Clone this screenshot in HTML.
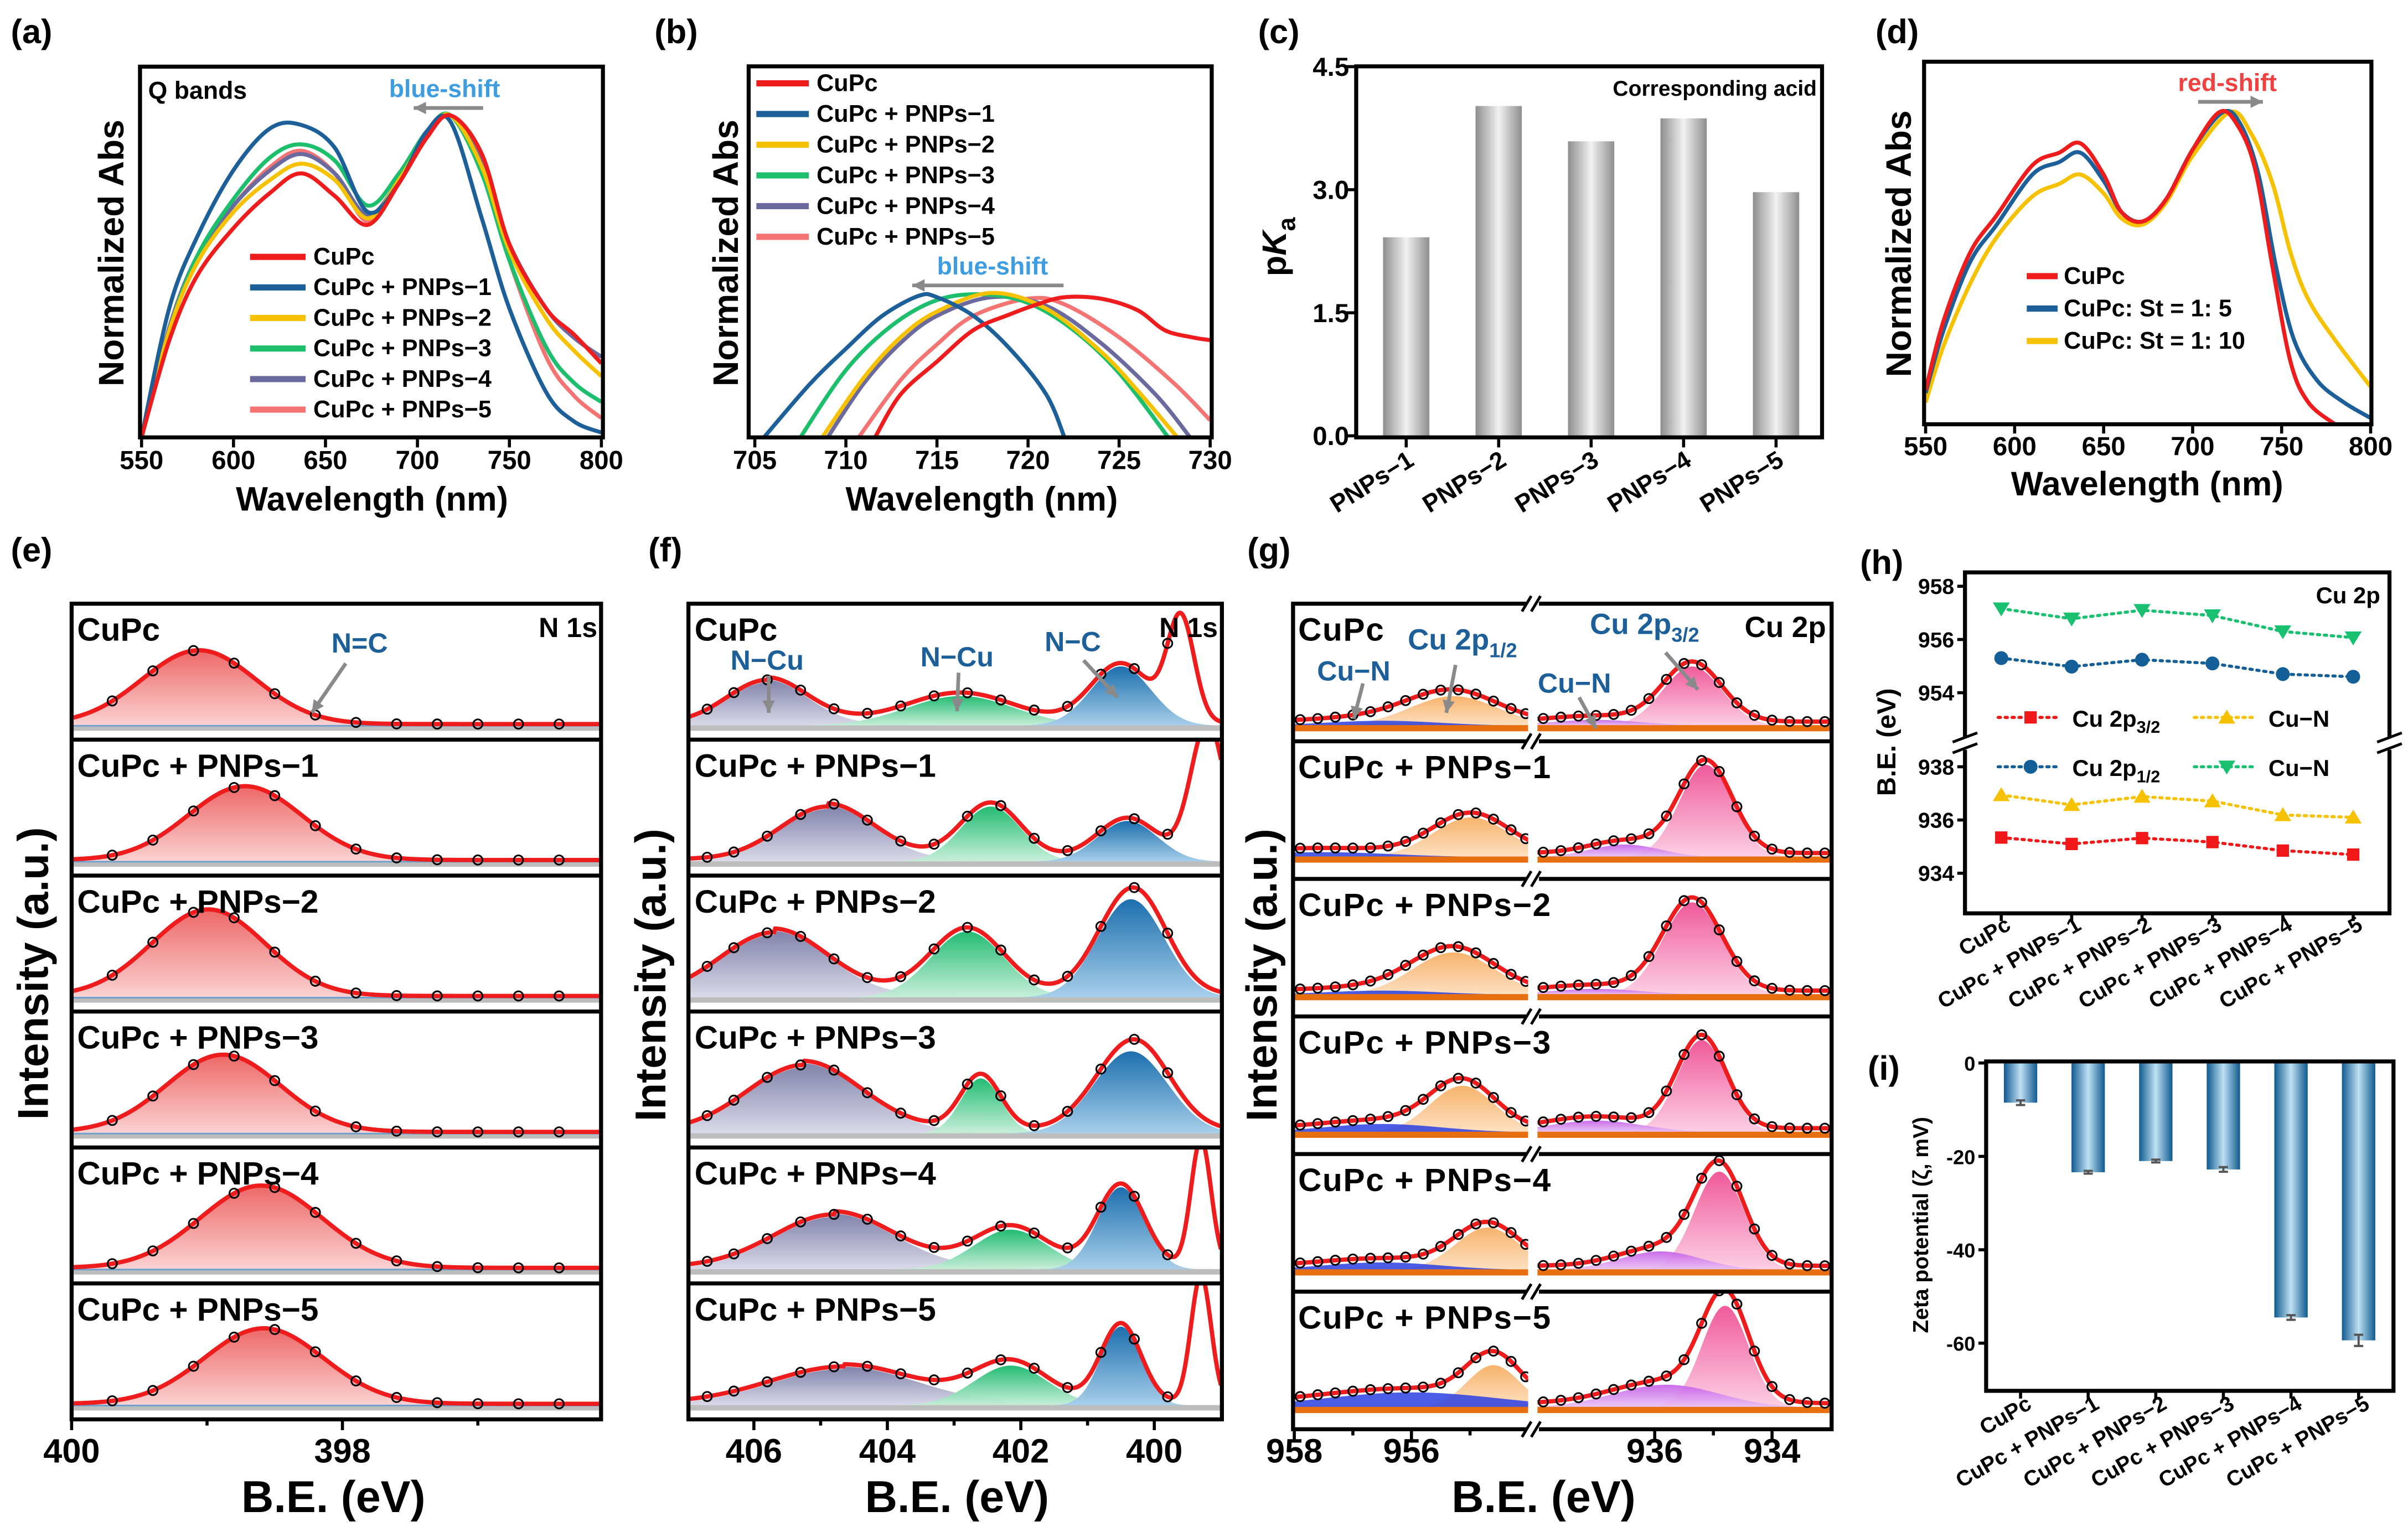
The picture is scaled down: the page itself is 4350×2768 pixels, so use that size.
<!DOCTYPE html>
<html><head><meta charset="utf-8"><title>CuPc spectra figure</title>
<style>
html,body{margin:0;padding:0;background:#fff;}
svg{display:block;}
text{font-family:"Liberation Sans",Arial,sans-serif;font-weight:bold;}
</style></head>
<body>
<svg id="fig" xmlns="http://www.w3.org/2000/svg" width="4350" height="2768" viewBox="0 0 1560 993" preserveAspectRatio="none">
<defs>
<linearGradient id="gRed" x1="0" y1="0" x2="0" y2="1"><stop offset="0" stop-color="#ee6a6a"/><stop offset="1" stop-color="#fbd2d2"/></linearGradient>
<linearGradient id="gPur" x1="0" y1="0" x2="0" y2="1"><stop offset="0" stop-color="#7b7ca6"/><stop offset="1" stop-color="#d8d8e8"/></linearGradient>
<linearGradient id="gGre" x1="0" y1="0" x2="0" y2="1"><stop offset="0" stop-color="#18b86c"/><stop offset="1" stop-color="#c6efd9"/></linearGradient>
<linearGradient id="gBlu" x1="0" y1="0" x2="0" y2="1"><stop offset="0" stop-color="#1c6fae"/><stop offset="1" stop-color="#a8cfea"/></linearGradient>
<linearGradient id="gOra" x1="0" y1="0" x2="0" y2="1"><stop offset="0" stop-color="#f7b36c"/><stop offset="1" stop-color="#fde0c2"/></linearGradient>
<linearGradient id="gPnk" x1="0" y1="0" x2="0" y2="1"><stop offset="0" stop-color="#f05a9a"/><stop offset="1" stop-color="#fcd0e4"/></linearGradient>
<linearGradient id="gVio" x1="0" y1="0" x2="0" y2="1"><stop offset="0" stop-color="#c55de8"/><stop offset="1" stop-color="#e9c3f5"/></linearGradient>
<linearGradient id="gBar" x1="0" y1="0" x2="1" y2="0"><stop offset="0" stop-color="#8e8e8e"/><stop offset="0.5" stop-color="#f2f2f2"/><stop offset="1" stop-color="#8e8e8e"/></linearGradient>
<linearGradient id="gZeta" x1="0" y1="0" x2="1" y2="0"><stop offset="0" stop-color="#0f5a8f"/><stop offset="0.5" stop-color="#bfe1f3"/><stop offset="1" stop-color="#0f5a8f"/></linearGradient>
</defs>
</svg>
<script>
// ---------- data: panel (a) ----------
const aWl=[550,565,580,600,620,637,655,673,690,705,718,735,750,770,785,800];
const aCuPc=[0,0.3,0.5,0.65,0.76,0.82,0.75,0.66,0.79,0.93,1.0,0.88,0.6,0.4,0.32,0.23];
const aP1=[0,0.4,0.62,0.83,0.96,0.97,0.9,0.7,0.79,0.95,0.98,0.68,0.4,0.14,0.05,0.015];
const aP2=[0,0.33,0.54,0.7,0.8,0.85,0.8,0.68,0.8,0.94,1.0,0.84,0.58,0.37,0.27,0.19];
const aP3=[0,0.33,0.56,0.74,0.87,0.91,0.86,0.72,0.82,0.95,1.0,0.82,0.55,0.28,0.17,0.11];
const aP4=[0,0.34,0.56,0.72,0.83,0.88,0.82,0.69,0.8,0.94,1.0,0.85,0.6,0.4,0.31,0.25];
const aP5=[0,0.33,0.56,0.72,0.84,0.89,0.82,0.67,0.79,0.94,1.0,0.85,0.55,0.25,0.13,0.06];
const seriesNames=['CuPc','CuPc + PNPs\u22121','CuPc + PNPs\u22122','CuPc + PNPs\u22123','CuPc + PNPs\u22124','CuPc + PNPs\u22125'];
// ---------- data: panel (b) ----------
const bRedX=[711.6,713,715,717,719,720.5,722,724,726,727.5,729,730];
const bRedY=[0,0.3,0.53,0.75,0.86,0.93,0.98,0.97,0.89,0.75,0.7,0.68];
const bP1X=[705.5,708,710,712,714,715,717,719,721,722];
const bP1Y=[0,0.37,0.62,0.85,0.99,0.98,0.85,0.62,0.3,0];
const bP2X=[708.7,711,713,715,718,721,724,726,728.2];
const bP2Y=[0,0.42,0.7,0.88,1.01,0.9,0.6,0.33,0];
const bP3X=[707.5,710,712.5,715,717.5,720,722.5,725,727.7];
const bP3Y=[0,0.47,0.78,0.96,1.0,0.94,0.75,0.45,0];
const bP4X=[709,711,713,715,718,721,724,727,728.9];
const bP4Y=[0,0.38,0.66,0.85,0.98,0.92,0.66,0.3,0];
const bP5X=[710.7,713,715,717,720,722,725,728,730];
const bP5Y=[0,0.4,0.65,0.85,0.97,0.93,0.7,0.38,0.12];
// ---------- data: panel (c) ----------
const cCats=['PNPs\u22121','PNPs\u22122','PNPs\u22123','PNPs\u22124','PNPs\u22125'];
const cPka=[2.42,4.02,3.59,3.87,2.97];
const cTicks=[0,1.5,3.0,4.5];
// ---------- data: panel (d) ----------
const dRedX=[550,560,575,590,610,625,637,650,660,672,685,700,715,725,735,745,755,765,780];
const dRedY=[0.11,0.33,0.55,0.67,0.83,0.87,0.9,0.8,0.68,0.65,0.72,0.88,1.0,0.96,0.82,0.5,0.2,0.07,0];
const dSt5X=[550,560,575,590,610,625,637,650,660,672,685,700,717,727,737,747,757,770,785,800];
const dSt5Y=[0.1,0.3,0.52,0.64,0.8,0.84,0.87,0.78,0.68,0.65,0.72,0.88,1.0,0.96,0.8,0.5,0.27,0.14,0.07,0.02];
const dSt10X=[550,560,575,590,610,625,637,650,660,672,685,700,721,733,745,755,765,780,800];
const dSt10Y=[0.07,0.25,0.45,0.6,0.73,0.77,0.8,0.74,0.66,0.64,0.71,0.86,1.0,0.93,0.77,0.55,0.4,0.27,0.12];
// ---------- data: panel (e) ----------
const eCenter=[399.06,398.72,398.99,398.88,398.6,398.58];
const eHeight=[0.87,0.87,1.02,0.91,0.97,0.89];
const eSigma=[0.42,0.42,0.42,0.42,0.45,0.44];
const eSamples=[399.7,399.4,399.1,398.8,398.5,398.2,397.9,397.6,397.3,397.0,396.7,396.4];
// ---------- data: panel (f) ----------
const fPurC=[405.8,404.9,405.7,405.25,404.8,404.65], fPurH=[0.51,0.62,0.74,0.78,0.62,0.43], fPurS=[0.6,0.7,0.8,0.85,0.9,1.1];
const fGreC=[402.9,402.45,402.8,402.6,402.15,402.15], fGreH=[0.35,0.65,0.78,0.65,0.47,0.47], fGreS=[0.8,0.45,0.55,0.3,0.55,0.55];
const fBluC=[400.5,400.4,400.35,400.35,400.5,400.5], fBluH=[0.70,0.48,1.16,0.97,0.97,0.93], fBluS=[0.45,0.45,0.5,0.55,0.35,0.3];
const fTailC=[399.6,399.2,400.1,400.1,399.3,399.3], fTailH=[1.2,1.6,0.12,0.12,1.5,1.5], fTailS=[0.2,0.25,0.4,0.4,0.15,0.15];
const fSamples=[406.7,406.3,405.8,405.3,404.8,404.3,403.8,403.3,402.8,402.3,401.8,401.3,400.8,400.3,399.8];
// ---------- data: panel (g) ----------
const gOraC=[955.28,954.98,955.28,955.13,954.7,954.6], gOraH=[0.35,0.47,0.5,0.55,0.5,0.5], gOraS=[0.75,0.65,0.7,0.55,0.55,0.45];
const gCuNLC=[956.5,957.5,956.5,956.5,956.5,956.0], gCuNLH=[0.06,0.06,0.05,0.1,0.09,0.18], gCuNLS=[1,1.2,1,1,1,1.5];
const gPnkC=[935.36,935.13,935.36,935.2,934.9,934.8], gPnkH=[0.70,1.09,1.09,1.09,1.16,1.2], gPnkS=[0.5,0.45,0.5,0.42,0.42,0.4];
const gCuNRC=[937.0,936.5,937.0,937.0,935.9,935.8], gCuNRH=[0.07,0.15,0.07,0.14,0.22,0.27], gCuNRS=[0.8,0.6,0.8,0.8,0.7,0.9];
const gSamplesL=[957.9,957.6,957.3,957.0,956.7,956.4,956.1,955.8,955.5,955.2,954.9,954.6,954.3,954.05];
const gSamplesR=[937.9,937.6,937.3,937.0,936.7,936.4,936.1,935.8,935.5,935.2,934.9,934.6,934.3,934.0,933.7,933.4,933.1];
// ---------- data: panel (h) ----------
const hCats=['CuPc','CuPc + PNPs\u22121','CuPc + PNPs\u22122','CuPc + PNPs\u22123','CuPc + PNPs\u22124','CuPc + PNPs\u22125'];
const hCuN1=[957.16,956.78,957.1,956.9,956.3,956.07];
const hCu2p12=[955.3,954.98,955.24,955.1,954.7,954.6];
const hCuN2=[936.94,936.57,936.88,936.71,936.19,936.1];
const hCu2p32=[935.34,935.1,935.32,935.17,934.85,934.7];
const hTopTicks=[958,956,954], hBotTicks=[938,936,934];
// ---------- data: panel (i) ----------
const iZeta=[-8.5,-23.4,-21.0,-22.8,-54.5,-59.4];
const iErr=[0.5,0.3,0.3,0.5,0.5,1.2];
const iTicks=[0,-20,-40,-60];

// ---------- helpers ----------
const NS='http://www.w3.org/2000/svg';
const svg=document.getElementById('fig');
function el(tag,attrs,parent){const e=document.createElementNS(NS,tag);for(const k in attrs)e.setAttribute(k,attrs[k]);(parent||svg).appendChild(e);return e;}
function nm(e,name){


return e;}
function lin(d0,d1,r0,r1){return v=>r0+(v-d0)/(d1-d0)*(r1-r0);}
function txt(str,x,y,size,opt){opt=opt||{};const t=el('text',{x:x,y:y,'font-size':size,fill:opt.fill||'#000','text-anchor':opt.anchor||'start'},opt.parent);if(opt.tr)t.setAttribute('transform',opt.tr);if(opt.ls)t.setAttribute('letter-spacing',opt.ls);t.textContent=str;return t;}
function rtxt(str,cx,cy,size,ang,anchor){const t=el('text',{x:0,y:0,'font-size':size,fill:'#000','text-anchor':anchor||'middle',transform:`translate(${cx},${cy}) rotate(${ang})`});t.textContent=str;return t;}
function smooth(p){let d=`M${p[0][0].toFixed(2)},${p[0][1].toFixed(2)}`;for(let i=0;i<p.length-1;i++){const p0=p[i-1]||p[i],p1=p[i],p2=p[i+1],p3=p[i+2]||p2;const c1=[p1[0]+(p2[0]-p0[0])/6,p1[1]+(p2[1]-p0[1])/6],c2=[p2[0]-(p3[0]-p1[0])/6,p2[1]-(p3[1]-p1[1])/6];d+=` C${c1[0].toFixed(2)},${c1[1].toFixed(2)} ${c2[0].toFixed(2)},${c2[1].toFixed(2)} ${p2[0].toFixed(2)},${p2[1].toFixed(2)}`;}return d;}
let clipN=0;
function clip(x,y,w,h){const id='c'+(clipN++);const cp=el('clipPath',{id:id});el('rect',{x:x,y:y,width:w,height:h},cp);return `url(#${id})`;}
function frame(x0,y0,x1,y1,name){const r=el('rect',{x:x0,y:y0,width:x1-x0,height:y1-y0,fill:'none',stroke:'#000','stroke-width':2.6});nm(r,name);return r;}
function arrow(x1,y1,x2,y2,name){const g=el('g',{});nm(g,name);el('line',{x1:x1,y1:y1,x2:x2,y2:y2,stroke:'#8a8a8a','stroke-width':2.4},g);const a=Math.atan2(y2-y1,x2-x1),L=8,W=4;const p=[[x2,y2],[x2-L*Math.cos(a)+W*Math.sin(a),y2-L*Math.sin(a)-W*Math.cos(a)],[x2-L*Math.cos(a)-W*Math.sin(a),y2-L*Math.sin(a)+W*Math.cos(a)]];el('polygon',{points:p.map(q=>q.join(',')).join(' '),fill:'#8a8a8a'},g);}
function gauss(E,c,h,s){return h*Math.exp(-0.5*((E-c)/s)**2);}
const colors=['#ee1c1c','#1c5f99','#f6c200','#1dbf6c','#6a6a9e','#f47474'];

// ---------- panel labels ----------
[['(a)',7,28],['(b)',424,28],['(c)',815,28],['(d)',1215,28],['(e)',7,364],['(f)',420,364],['(g)',808,364],['(h)',1205,372],['(i)',1210,700]].forEach(l=>{const t=txt(l[0],l[1],l[2],22);nm(t,'panel-label-'+l[0].replace(/[()]/g,''));});

// ---------- panel (a) ----------
{
const X=lin(550,800,91.7,389.6), Y=v=>283.5-v*208.7;
const cp=clip(90.7,43.2,299.9,240.3);
const g=el('g',{'clip-path':cp});nm(g,'panel-a-plot');
const ser=[aCuPc,aP1,aP2,aP3,aP4,aP5];
for(let s=5;s>=0;s--){const p=el('path',{d:smooth(aWl.map((w,i)=>[X(w),Y(ser[s][i])])),fill:'none',stroke:colors[s],'stroke-width':2.6},g);nm(p,'a-line-'+s);}
frame(90.7,43.2,390.6,283.5,'panel-a-frame');
[550,600,650,700,750,800].forEach(v=>{el('line',{x1:X(v),y1:283.5,x2:X(v),y2:290,stroke:'#000','stroke-width':2});const t=txt(String(v),X(v),304,17,{anchor:'middle'});nm(t,'a-x-tick-label');});
nm(txt('Wavelength (nm)',241,331,22,{anchor:'middle'}),'a-x-axis-title');
nm(rtxt('Normalized Abs',80,164,23,-90),'a-y-axis-title');
nm(txt('Q bands',96,64,16),'a-q-bands-label');
nm(txt('blue-shift',288,63,16,{anchor:'middle',fill:'#3d9de0'}),'a-blue-shift-label');
arrow(313,70,268,70,'a-shift-arrow');
seriesNames.forEach((n,i)=>{const y=166.5+i*19.8;const ln=el('line',{x1:162,y1:y,x2:198,y2:y,stroke:colors[i],'stroke-width':4});nm(ln,'a-legend-swatch');nm(txt(n,203,y+5,15.5),'a-legend-entry');});
}
// ---------- panel (b) ----------
{
const X=lin(705,730,489,784), Y=v=>283.5-v*92.7;
const cp=clip(485,43,300,240.5);
const g=el('g',{'clip-path':cp});nm(g,'panel-b-plot');
const xs=[bRedX,bP1X,bP2X,bP3X,bP4X,bP5X], ys=[bRedY,bP1Y,bP2Y,bP3Y,bP4Y,bP5Y];
for(let s=5;s>=0;s--){const p=el('path',{d:smooth(xs[s].map((w,i)=>[X(w),Y(ys[s][i])])),fill:'none',stroke:colors[s],'stroke-width':2.6},g);nm(p,'b-line-'+s);}
frame(485,43,785,283.5,'panel-b-frame');
[705,710,715,720,725,730].forEach(v=>{el('line',{x1:X(v),y1:283.5,x2:X(v),y2:290,stroke:'#000','stroke-width':2});nm(txt(String(v),X(v),304,17,{anchor:'middle'}),'b-x-tick-label');});
nm(txt('Wavelength (nm)',636,331,22,{anchor:'middle'}),'b-x-axis-title');
nm(rtxt('Normalized Abs',478,164,23,-90),'b-y-axis-title');
seriesNames.forEach((n,i)=>{const y=54+i*19.9;const ln=el('line',{x1:490,y1:y,x2:524,y2:y,stroke:colors[i],'stroke-width':4});nm(ln,'b-legend-swatch');nm(txt(n,529,y+5,15.5),'b-legend-entry');});
nm(txt('blue-shift',643,178,16,{anchor:'middle',fill:'#3d9de0'}),'b-blue-shift-label');
arrow(689,185,591,185,'b-shift-arrow');
}
// ---------- panel (c) ----------
{
const Y=lin(0,4.5,282.5,43.2);
const xc=i=>911+i*59.9;
cPka.forEach((v,i)=>{const r=el('rect',{x:xc(i)-15,y:Y(v),width:30,height:Y(0)-Y(v),fill:'url(#gBar)'});nm(r,'c-bar-'+cCats[i]);});
frame(878.6,43,1180.4,283.5,'panel-c-frame');
cTicks.forEach(v=>{el('line',{x1:872,y1:Y(v),x2:878.6,y2:Y(v),stroke:'#000','stroke-width':2});nm(txt(v.toFixed(1),874,Y(v)+6,17,{anchor:'end'}),'c-y-tick-label');});
cCats.forEach((c,i)=>{el('line',{x1:xc(i),y1:283.5,x2:xc(i),y2:290,stroke:'#000','stroke-width':2});nm(rtxt(c,xc(i)+6,301,16,-32,'end'),'c-x-tick-label');});
const t=el('text',{x:0,y:0,'font-size':22,transform:'translate(833,160) rotate(-90)','text-anchor':'middle'});t.innerHTML='p<tspan font-style="italic">K</tspan><tspan font-size="16" dy="6">a</tspan>';nm(t,'c-y-axis-title');
nm(txt('Corresponding acid',1177,62,14,{anchor:'end'}),'c-annotation');
}
// ---------- panel (d) ----------
{
const X=lin(550,800,1247.5,1535.8), Y=v=>275-v*202.3;
const cp=clip(1246.5,40,289.8,235);
const g=el('g',{'clip-path':cp});nm(g,'panel-d-plot');
const dc=['#ee1c1c','#1c5f99','#f6c200'];
const xs=[dRedX,dSt5X,dSt10X], ys=[dRedY,dSt5Y,dSt10Y];
for(let s=2;s>=0;s--){const p=el('path',{d:smooth(xs[s].map((w,i)=>[X(w),Y(ys[s][i])])),fill:'none',stroke:dc[s],'stroke-width':2.6},g);nm(p,'d-line-'+s);}
frame(1246.5,40,1536.3,275,'panel-d-frame');
[550,600,650,700,750,800].forEach(v=>{el('line',{x1:X(v),y1:275,x2:X(v),y2:281,stroke:'#000','stroke-width':2});nm(txt(String(v),X(v),295,17,{anchor:'middle'}),'d-x-tick-label');});
nm(txt('Wavelength (nm)',1391,321,22,{anchor:'middle'}),'d-x-axis-title');
nm(rtxt('Normalized Abs',1238,158,23,-90),'d-y-axis-title');
['CuPc','CuPc: St = 1: 5','CuPc: St = 1: 10'].forEach((n,i)=>{const y=179+i*21;const ln=el('line',{x1:1313,y1:y,x2:1333,y2:y,stroke:dc[i],'stroke-width':4});nm(ln,'d-legend-swatch');nm(txt(n,1337,y+5,15.5),'d-legend-entry');});
nm(txt('red-shift',1443,59,16,{anchor:'middle',fill:'#f04040'}),'d-red-shift-label');
arrow(1424,66,1466,66,'d-shift-arrow');
}
// ---------- XPS row helpers ----------
function rowFrame(x0,x1,top,bottom,n,name){const h=(bottom-top)/n;for(let r=1;r<n;r++){const l=el('line',{x1:x0,y1:top+r*h,x2:x1,y2:top+r*h,stroke:'#000','stroke-width':2.6});nm(l,name+'-row-divider');}frame(x0,top,x1,bottom,name+'-frame');return h;}
function fillPath(E0,E1,X,base,fn,step){let d=`M${X(E0)},${base}`;for(let E=E0;E>=E1-1e-9;E-=step)d+=` L${X(E).toFixed(2)},${(base-fn(E)*55).toFixed(2)}`;d+=` L${X(E1)},${base} Z`;return d;}
function linePath(E0,E1,X,base,fn,step){let d='';for(let E=E0;E>=E1-1e-9;E-=step)d+=(d?' L':'M')+`${X(E).toFixed(2)},${(base-fn(E)*55).toFixed(2)}`;return d;}

// ---------- panel (e) ----------
{
const top=391.3,bottom=920,x0=46.4,x1=389.4;
const X=lin(400,396.09,x0,x1);const rh=(bottom-top)/6;
for(let r=0;r<6;r++){
 const rt=top+r*rh, base=rt+rh-9;
 const g=el('g',{'clip-path':clip(x0,rt,x1-x0,rh)});nm(g,'e-row-'+r);
 const fn=E=>gauss(E,eCenter[r],eHeight[r],eSigma[r]);
 nm(el('path',{d:fillPath(400,396.09,X,base,fn,0.02),fill:'url(#gRed)'},g),'e-peak-fill');
 nm(el('line',{x1:x0,y1:base+1.5,x2:x1,y2:base+1.5,stroke:'#bdbdbd','stroke-width':3.5},g),'e-baseline');
 nm(el('line',{x1:x0,y1:base,x2:x1,y2:base,stroke:'#6aa0d0','stroke-width':1},g),'e-background');
 nm(el('path',{d:linePath(400,396.09,X,base,E=>fn(E)+0.02,0.02),fill:'none',stroke:'#ee1c1c','stroke-width':2.8},g),'e-fit-line');
 eSamples.forEach(E=>{nm(el('circle',{cx:X(E),cy:base-(fn(E)+0.02)*55,r:3,fill:'none',stroke:'#000','stroke-width':1.1},g),'e-data-point');});
 nm(txt(seriesNames[r],50,rt+24,21),'e-row-label');
}
rowFrame(x0,x1,top,bottom,6,'panel-e');
[400,399,398,397].forEach(v=>{el('line',{x1:X(v),y1:bottom,x2:X(v),y2:bottom+(v%2===0?7:4),stroke:'#000','stroke-width':2});});
[400,398].forEach(v=>nm(txt(String(v),X(v),948,22,{anchor:'middle'}),'e-x-tick-label'));
nm(txt('B.E. (eV)',216,980,29,{anchor:'middle'}),'e-x-axis-title');
nm(rtxt('Intensity (a.u.)',31,631,28,-90),'e-y-axis-title');
nm(txt('N 1s',387,413,18,{anchor:'end'}),'e-n1s-label');
nm(txt('N=C',233,423,18,{anchor:'middle',fill:'#1c5f99'}),'e-nc-label');
arrow(224,430,202,462,'e-nc-arrow');
}
// ---------- panel (f) ----------
{
const top=391.3,bottom=920,x0=446,x1=791.6;
const X=lin(406,400,488.4,747.8);const rh=(bottom-top)/6;
for(let r=0;r<6;r++){
 const rt=top+r*rh, base=rt+rh-9;
 const g=el('g',{'clip-path':clip(x0,rt,x1-x0,rh)});nm(g,'f-row-'+r);
 const P=E=>gauss(E,fPurC[r],fPurH[r],fPurS[r])+(E<fPurC[r]?0.06*fPurH[r]*Math.exp(-(fPurC[r]-E)/3):0);
 const G=E=>gauss(E,fGreC[r],fGreH[r],fGreS[r]);
 const B=E=>gauss(E,fBluC[r],fBluH[r],fBluS[r]);
 const T=E=>gauss(E,fTailC[r],fTailH[r],fTailS[r]);
 nm(el('path',{d:fillPath(407,399,X,base,P,0.02),fill:'url(#gPur)',opacity:0.95},g),'f-ncu-peak');
 nm(el('path',{d:fillPath(407,399,X,base,G,0.02),fill:'url(#gGre)',opacity:0.95},g),'f-ncu2-peak');
 nm(el('path',{d:fillPath(407,399,X,base,B,0.02),fill:'url(#gBlu)'},g),'f-nc-peak');
 nm(el('line',{x1:x0,y1:base+1.5,x2:x1,y2:base+1.5,stroke:'#bdbdbd','stroke-width':3.5},g),'f-baseline');
 const fit=E=>P(E)+G(E)+B(E)+T(E)+0.03;
 nm(el('path',{d:linePath(407,399,X,base,fit,0.02),fill:'none',stroke:'#ee1c1c','stroke-width':2.8},g),'f-fit-line');
 fSamples.forEach(E=>{nm(el('circle',{cx:X(E),cy:base-fit(E)*55,r:3,fill:'none',stroke:'#000','stroke-width':1.1},g),'f-data-point');});
 nm(txt(seriesNames[r],450,rt+24,21),'f-row-label');
}
rowFrame(x0,x1,top,bottom,6,'panel-f');
[406,405,404,403,402,401,400].forEach(v=>{el('line',{x1:X(v),y1:bottom,x2:X(v),y2:bottom+(v%2===0?7:4),stroke:'#000','stroke-width':2});});
[406,404,402,400].forEach(v=>nm(txt(String(v),X(v),948,22,{anchor:'middle'}),'f-x-tick-label'));
nm(txt('B.E. (eV)',620,980,29,{anchor:'middle'}),'f-x-axis-title');
nm(rtxt('Intensity (a.u.)',431,632,28,-90),'f-y-axis-title');
nm(txt('N 1s',789,413,18,{anchor:'end'}),'f-n1s-label');
nm(txt('N\u2212Cu',497,434,18,{anchor:'middle',fill:'#1c5f99'}),'f-ncu-label-1');
nm(txt('N\u2212Cu',620,432,18,{anchor:'middle',fill:'#1c5f99'}),'f-ncu-label-2');
nm(txt('N\u2212C',695,422,18,{anchor:'middle',fill:'#1c5f99'}),'f-nc-label');
arrow(498,438,498,462,'f-ncu-arrow-1');arrow(621,436,620,461,'f-ncu-arrow-2');arrow(702,428,724,452,'f-nc-arrow');
}
// ---------- panel (g) ----------
{
const top=391.3,bottom=926.4,x0=837.7,x1=1186.6,brk=993;
const XL=lin(958,956,838.5,914.4), XR=lin(936,934,1072,1148);const rh=(bottom-top)/6;
for(let r=0;r<6;r++){
 const rt=top+r*rh, base=rt+rh-(r===0?10:14);
 const O=E=>gauss(E,gOraC[r],gOraH[r],gOraS[r]);
 const BL=E=>gauss(E,gCuNLC[r],gCuNLH[r],gCuNLS[r]);
 const PK=E=>gauss(E,gPnkC[r],gPnkH[r],gPnkS[r]);
 const PU=E=>gauss(E,gCuNRC[r],gCuNRH[r],gCuNRS[r]);
 const gl=el('g',{'clip-path':clip(x0,rt,990-x0,rh)});nm(gl,'g-row-left-'+r);
 nm(el('path',{d:fillPath(958.2,954.0,XL,base,O,0.02),fill:'url(#gOra)'},gl),'g-2p12-peak');
 nm(el('path',{d:fillPath(958.2,954.0,XL,base,BL,0.02),fill:'#2b3fe0',opacity:0.85},gl),'g-cun-left-peak');
 nm(el('line',{x1:x0,y1:base+1.5,x2:990,y2:base+1.5,stroke:'#e86f10','stroke-width':4},gl),'g-baseline-left');
 const fitL=E=>O(E)+BL(E)+0.05;
 nm(el('path',{d:linePath(958.2,954.0,XL,base,fitL,0.02),fill:'none',stroke:'#ee1c1c','stroke-width':2.8},gl),'g-fit-left');
 gSamplesL.forEach(E=>{nm(el('circle',{cx:XL(E),cy:base-fitL(E)*55,r:3,fill:'none',stroke:'#000','stroke-width':1.1},gl),'g-data-point');});
 const gr=el('g',{'clip-path':clip(996,rt,x1-996,rh)});nm(gr,'g-row-right-'+r);
 nm(el('path',{d:fillPath(938,933,XR,base,PK,0.02),fill:'url(#gPnk)'},gr),'g-2p32-peak');
 nm(el('path',{d:fillPath(938,933,XR,base,PU,0.02),fill:'url(#gVio)',opacity:0.9},gr),'g-cun-right-peak');
 nm(el('line',{x1:996,y1:base+1.5,x2:x1,y2:base+1.5,stroke:'#e86f10','stroke-width':4},gr),'g-baseline-right');
 const fitR=E=>PK(E)+PU(E)+0.05;
 nm(el('path',{d:linePath(938,933,XR,base,fitR,0.02),fill:'none',stroke:'#ee1c1c','stroke-width':2.8},gr),'g-fit-right');
 gSamplesR.forEach(E=>{nm(el('circle',{cx:XR(E),cy:base-fitR(E)*55,r:3,fill:'none',stroke:'#000','stroke-width':1.1},gr),'g-data-point');});
 nm(txt(seriesNames[r],841,rt+24,21,{ls:0.6}),'g-row-label');
}
rowFrame(x0,x1,top,bottom,6,'panel-g');
for(let r=0;r<=6;r++){const y=top+r*rh;const w=el('rect',{x:brk-4,y:y-3,width:8,height:6,fill:'#fff'});nm(w,'g-axis-break-gap');const bm=el('path',{d:`M${brk-7},${y+5} L${brk-1},${y-5} M${brk-1},${y+5} L${brk+5},${y-5}`,stroke:'#000','stroke-width':1.8,fill:'none'});nm(bm,'g-axis-break-mark');}
[958,957,956,955].forEach(v=>el('line',{x1:XL(v),y1:bottom,x2:XL(v),y2:bottom+(v%2===0?7:4),stroke:'#000','stroke-width':2}));
[936,935,934].forEach(v=>el('line',{x1:XR(v),y1:bottom,x2:XR(v),y2:bottom+(v%2===0?7:4),stroke:'#000','stroke-width':2}));
[958,956].forEach(v=>nm(txt(String(v),XL(v),948,22,{anchor:'middle'}),'g-x-tick-label'));
[936,934].forEach(v=>nm(txt(String(v),XR(v),948,22,{anchor:'middle'}),'g-x-tick-label'));
nm(txt('B.E. (eV)',1000,980,29,{anchor:'middle'}),'g-x-axis-title');
nm(rtxt('Intensity (a.u.)',827,632,28,-90),'g-y-axis-title');
nm(txt('Cu 2p',1183,413,19,{anchor:'end'}),'g-cu2p-label');
const t1=el('text',{x:1030,y:411,'font-size':19,fill:'#1c5f99'});t1.innerHTML='Cu 2p<tspan font-size="13" dy="5">3/2</tspan>';nm(t1,'g-2p32-label');
const t2=el('text',{x:912,y:421,'font-size':19,fill:'#1c5f99'});t2.innerHTML='Cu 2p<tspan font-size="13" dy="5">1/2</tspan>';nm(t2,'g-2p12-label');
nm(txt('Cu\u2212N',877,441,18,{anchor:'middle',fill:'#1c5f99'}),'g-cun-left-label');
nm(txt('Cu\u2212N',1020,449,18,{anchor:'middle',fill:'#1c5f99'}),'g-cun-right-label');
arrow(883,443,877,466,'g-cun-left-arrow');arrow(1023,452,1034,472,'g-cun-right-arrow');arrow(943,431,937,462,'g-2p12-arrow');arrow(1079,423,1100,447,'g-2p32-arrow');
}
// ---------- panel (h) ----------
{
const x0=1273,x1=1548,y0=371,y1=592,yb=482;
const YT=lin(958,956,380,414.5), YB=lin(938,936,497,531.5);
const xc=i=>1296.5+i*45.6;
frame(x0,y0,x1,y1,'panel-h-frame');
[[x0,yb],[x1,yb]].forEach(p=>{const w=el('rect',{x:p[0]-3,y:p[1]-4,width:6,height:8,fill:'#fff'});nm(w,'h-axis-break-gap');const b=el('path',{d:`M${p[0]-8},${p[1]-1} L${p[0]+8},${p[1]-7} M${p[0]-8},${p[1]+6} L${p[0]+8},${p[1]}`,stroke:'#000','stroke-width':1.8,fill:'none'});nm(b,'h-axis-break-mark');});
hTopTicks.forEach(v=>{el('line',{x1:x0-5,y1:YT(v),x2:x0,y2:YT(v),stroke:'#000','stroke-width':2});nm(txt(String(v),x0-7,YT(v)+5,14,{anchor:'end'}),'h-y-tick-label');});
hBotTicks.forEach(v=>{el('line',{x1:x0-5,y1:YB(v),x2:x0,y2:YB(v),stroke:'#000','stroke-width':2});nm(txt(String(v),x0-7,YB(v)+5,14,{anchor:'end'}),'h-y-tick-label');});
const sers=[[hCuN1,YT,'#19c070','tdown'],[hCu2p12,YT,'#155f99','circ'],[hCuN2,YB,'#f6c200','tup'],[hCu2p32,YB,'#f01818','sq']];
function marker(s,x,y,c,parent){let m;if(s==='sq')m=el('rect',{x:x-4,y:y-4,width:8,height:8,fill:c},parent);else if(s==='circ')m=el('circle',{cx:x,cy:y,r:4.5,fill:c},parent);else if(s==='tup')m=el('polygon',{points:`${x},${y-5} ${x-5.5},${y+4} ${x+5.5},${y+4}`,fill:c},parent);else m=el('polygon',{points:`${x},${y+5} ${x-5.5},${y-4} ${x+5.5},${y-4}`,fill:c},parent);return m;}
sers.forEach((s,k)=>{const g=el('g',{});nm(g,'h-series-'+k);nm(el('polyline',{points:s[0].map((v,i)=>xc(i)+','+s[1](v)).join(' '),fill:'none',stroke:s[2],'stroke-width':2,'stroke-dasharray':'1.5 3','stroke-linecap':'round'},g),'h-line');s[0].forEach((v,i)=>nm(marker(s[3],xc(i),s[1](v),s[2],g),'h-point'));});
const leg=[[1294.5,465,'#f01818','sq','Cu 2p','3/2'],[1421.6,465,'#f6c200','tup','Cu\u2212N',''],[1294.5,497,'#155f99','circ','Cu 2p','1/2'],[1421.6,497,'#19c070','tdown','Cu\u2212N','']];
leg.forEach(l=>{const g=el('g',{});nm(g,'h-legend-entry');el('line',{x1:l[0],y1:l[1],x2:l[0]+40,y2:l[1],stroke:l[2],'stroke-width':2,'stroke-dasharray':'1.5 3','stroke-linecap':'round'},g);marker(l[3],l[0]+21,l[1],l[2],g);const t=el('text',{x:l[0]+48,y:l[1]+6,'font-size':15},g);t.innerHTML=l[4]+(l[5]?`<tspan font-size="11" dy="4">${l[5]}</tspan>`:'');});
nm(txt('Cu 2p',1542,391,15,{anchor:'end'}),'h-cu2p-label');
hCats.forEach((c,i)=>{el('line',{x1:xc(i),y1:y1,x2:xc(i),y2:y1+5,stroke:'#000','stroke-width':2});nm(rtxt(c,xc(i)+7,y1+10,14,-30,'end'),'h-x-tick-label');});
nm(rtxt('B.E. (eV)',1228,481,17,-90),'h-y-axis-title');
}
// ---------- panel (i) ----------
{
const x0=1286.7,x1=1550.6,y0=688,y1=901.5;
const Y=lin(0,-60,689,870.6);
const xc=i=>1309+i*43.8;
iZeta.forEach((v,i)=>{const r=el('rect',{x:xc(i)-10.8,y:Y(0),width:21.6,height:Y(v)-Y(0),fill:'url(#gZeta)'});nm(r,'i-bar-'+i);
 const e=el('path',{d:`M${xc(i)},${Y(v-iErr[i])} L${xc(i)},${Y(v+iErr[i])} M${xc(i)-3},${Y(v-iErr[i])} L${xc(i)+3},${Y(v-iErr[i])} M${xc(i)-3},${Y(v+iErr[i])} L${xc(i)+3},${Y(v+iErr[i])}`,stroke:'#555','stroke-width':1.4,fill:'none'});nm(e,'i-error-bar');});
frame(x0,y0,x1,y1,'panel-i-frame');
iTicks.forEach(v=>{el('line',{x1:x0-5,y1:Y(v),x2:x0,y2:Y(v),stroke:'#000','stroke-width':2});nm(txt(String(v),x0-7,Y(v)+5,13,{anchor:'end'}),'i-y-tick-label');});
hCats.forEach((c,i)=>{el('line',{x1:xc(i),y1:y1,x2:xc(i),y2:y1+5,stroke:'#000','stroke-width':2});nm(rtxt(c,xc(i)+8,y1+11,14,-30,'end'),'i-x-tick-label');});
nm(rtxt('Zeta potential (\u03b6, mV)',1249,794,14,-90),'i-y-axis-title');
}
</script>
</body></html>
